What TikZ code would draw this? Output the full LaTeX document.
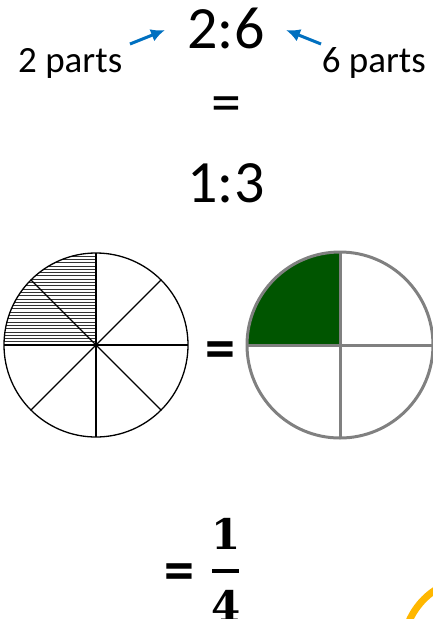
\documentclass[tikz,border=0pt]{standalone}
\usepackage{fontspec}
\setmainfont{Carlito}
\newfontfamily\fracfont{DejaVu Serif}
\usepackage{xcolor}
\usetikzlibrary{arrows.meta}

\definecolor{arrowblue}{RGB}{0,112,192}
\definecolor{quartergreen}{RGB}{0,85,0}
\definecolor{ringgray}{RGB}{128,128,128}
\definecolor{cornerorange}{RGB}{255,183,0}

\tikzset{
    bigtext/.style={font=\fontsize{60}{60}\selectfont, inner sep=0pt},
    boldtext/.style={font=\fontsize{60}{60}\selectfont\bfseries, inner sep=0pt},
    smalltext/.style={font=\fontsize{37}{37}\selectfont, inner sep=0pt},
    fractext/.style={font=\fontsize{42}{42}\selectfont\fracfont\bfseries, inner sep=0pt},
    partarrow/.style={arrowblue, line width=3pt, -{Latex[length=14pt, width=13pt]}},
}

\begin{document}
\begin{tikzpicture}[x=1pt, y=-1pt]
    
    % Frame
    \useasboundingbox (0,0) rectangle (432,619);
    
    % Ratios
    \node[bigtext, anchor=base] (ratioA) at (226,48) {2:6};
    \node[bigtext, anchor=base] (eqA) at (226,122) {=};
    \node[bigtext, anchor=base] (ratioB) at (226,202) {1:3};
    
    % Labels for the parts
    \node[smalltext, anchor=base west] (twoparts) at (18,72) {2 parts};
    \node[smalltext, anchor=base east] (sixparts) at (426,72) {6 parts};
    \coordinate (twotail) at (130,44);
    \coordinate (twotip) at (165,30);
    \coordinate (sixtail) at (321,44);
    \coordinate (sixtip) at (286,30);
    \draw[partarrow] (twotail) -- (twotip);
    \draw[partarrow] (sixtail) -- (sixtip);
    
    % Eighths circle
    \begin{scope}
        \clip (96,345) -- ++(0,-92) arc[start angle=-90, end angle=-180, radius=92] -- cycle;
        \foreach \k in {0,...,28}
            \draw[black!80, line width=0.6pt] (0,{345-3.3*\k}) -- (100,{345-3.3*\k});
    \end{scope}
    \draw[line width=1.3pt] (96,345) circle (92);
    \foreach \a in {0,45,...,315}
        \draw[line width=1.2pt] (96,345) -- ++({92*cos(\a)},{-92*sin(\a)});
    \node[circle, fill, inner sep=1.3pt] (eighthcentre) at (96,345) {};
    
    \node[boldtext, anchor=base] (eqB) at (220,368) {=};
    
    % Quarters circle
    \fill[quartergreen] (340,345) -- ++(0,-93) arc[start angle=-90, end angle=-180, radius=93] -- cycle;
    \draw[ringgray, line width=3pt] (340,345) circle (93);
    \draw[ringgray, line width=3pt] (340,252) -- (340,438);
    \draw[ringgray, line width=3pt] (247,345) -- (433,345);
    
    % Result
    \node[boldtext, anchor=base] (eqC) at (179,590) {=};
    \node[fractext, anchor=base] (numer) at (226,549) {1};
    \node[fractext, anchor=base] (denom) at (226,621) {4};
    \coordinate (barleft) at (212,571);
    \coordinate (barright) at (239,571);
    \draw[line width=3.5pt] (barleft) -- (barright);
    
    % Corner arc
    \draw[cornerorange, line width=7pt] ([shift={(475,650)}]200:72) arc[start angle=200, end angle=245, radius=72];
    
\end{tikzpicture}
\end{document}
